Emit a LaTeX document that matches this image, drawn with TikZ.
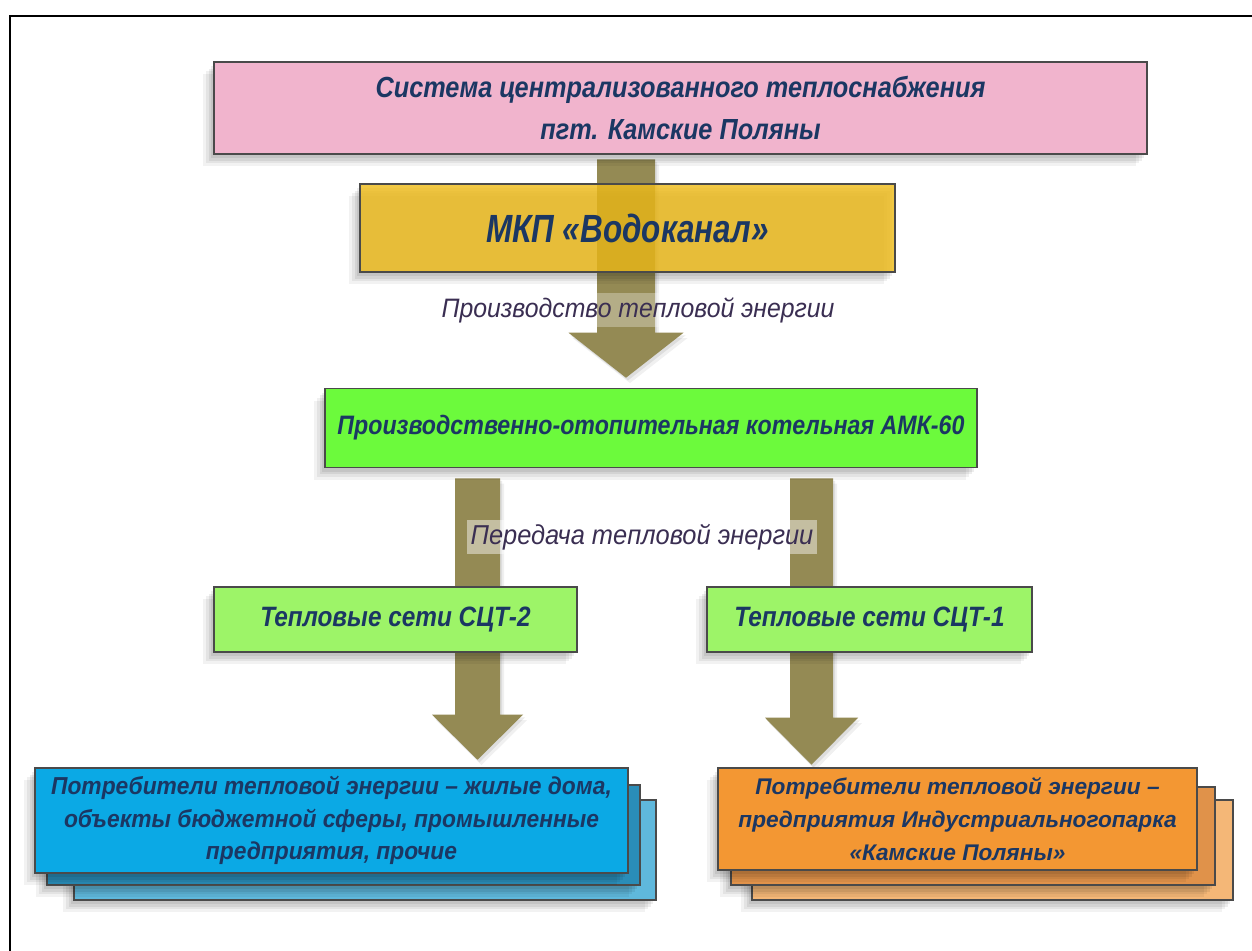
\documentclass[tikz,border=0pt]{standalone}
\usepackage{fontspec}
\setmainfont{Liberation Sans}
\newfontfamily\fsA[FakeStretch=0.80]{Liberation Sans}
\newfontfamily\fsB[FakeStretch=0.87]{Liberation Sans}
\newfontfamily\fsC[FakeStretch=0.93]{Liberation Sans}
\usetikzlibrary{calc}
\definecolor{navy}{HTML}{1B3763}
\definecolor{lblcol}{HTML}{3A2E52}
\definecolor{arrowcol}{HTML}{948A54}
\definecolor{pinkfill}{HTML}{F1B4CD}
\definecolor{yellowfill}{HTML}{EFBC1B}
\definecolor{greenfill}{HTML}{6CFA3C}
\definecolor{lgreenfill}{HTML}{9DF468}
\definecolor{bluefront}{HTML}{0BA9E5}
\definecolor{bluemid}{HTML}{2A8DB8}
\definecolor{blueback}{HTML}{5FB8DC}
\definecolor{orfront}{HTML}{F39733}
\definecolor{ormid}{HTML}{E0924A}
\definecolor{orback}{HTML}{F4B777}
\definecolor{boxline}{HTML}{4A4A4A}
\tikzset{
  shadowed/.style={
    preaction={fill=black, fill opacity=0.07, draw=none, transform canvas={xshift=-2pt, yshift=-3pt}},
    preaction={fill=black, fill opacity=0.07, draw=none, transform canvas={xshift=-4pt, yshift=-5pt}},
    preaction={fill=black, fill opacity=0.06, draw=none, transform canvas={xshift=-6pt, yshift=-7pt}},
    preaction={fill=black, fill opacity=0.05, draw=none, transform canvas={xshift=-8pt, yshift=-9pt}}},
  arrowshadow/.style={
    preaction={fill=black, fill opacity=0.08, draw=none, transform canvas={xshift=1.5pt, yshift=-2pt}},
    preaction={fill=black, fill opacity=0.06, draw=none, transform canvas={xshift=3pt, yshift=-4pt}}},
  boxstyle/.style={draw=boxline, line width=1pt, shadowed, inner sep=0pt, align=center, text=navy,
     font=\fsB\fontsize{20}{24}\selectfont\bfseries\itshape},
  lbl/.style={text=lblcol, font=\fsC\fontsize{20}{24}\selectfont\itshape, inner sep=3pt},
}
\newcommand\blockarrow[5]{%
  \fill[arrowcol, arrowshadow]
    ($(#1)+(-#3,0)$) -- ($(#1)+(#3,0)$) -- ($(#2)+(#3,-#5)$) -- ($(#2)+(#4,-#5)$) -- (#2)
    -- ($(#2)+(-#4,-#5)$) -- ($(#2)+(-#3,-#5)$) -- cycle;}
\begin{document}
\begin{tikzpicture}[x=0.75pt,y=-0.75pt]
\useasboundingbox (0,0) rectangle (1252,950);
\fill[white] (0,0) rectangle (1252,950);
\draw[line width=1.5pt, line cap=rect] (10,950) -- (10,16) -- (1252,16);

% reference nodes for geometry
\path (680.5,109) node[minimum width=699.75pt, minimum height=69pt, inner sep=0pt] (pinkref) {};
\path (651,429.5) node[minimum width=489pt, minimum height=59.25pt, inner sep=0pt] (greenref) {};
\path (331.5,820.5) node[minimum width=444.75pt, minimum height=78.75pt, inner sep=0pt] (blueref) {};
\path (957.5,819) node[minimum width=359.25pt, minimum height=76.5pt, inner sep=0pt] (orref) {};

\coordinate (ax0) at (626,0);
\coordinate (ax1) at (477.5,0);
\coordinate (ax2) at (811.5,0);

\coordinate (a0s) at ($(pinkref.south -| ax0)+(0,4)$);
\coordinate (a0e) at ($(greenref.north -| ax0)+(0,-12)$);
\coordinate (a1s) at ($(greenref.south -| ax1)+(0,9)$);
\coordinate (a1e) at ($(blueref.north -| ax1)+(0,-8)$);
\coordinate (a2s) at ($(greenref.south -| ax2)+(0,9)$);
\coordinate (a2e) at ($(orref.north -| ax2)+(0,-3)$);

\blockarrow{a0s}{a0e}{29}{57.5}{45}
\blockarrow{a1s}{a1e}{22.5}{45.5}{45}
\blockarrow{a2s}{a2e}{21.5}{46.5}{47}

% top box
\node[boxstyle, fill=pinkfill, minimum width=699.75pt, minimum height=69pt,
      font=\fsB\fontsize{21.8}{31}\selectfont\bfseries\itshape] (pink) at (680.5,108)
  {Система централизованного теплоснабжения\\ пгт. Камские Поляны};

% yellow box
\node[boxstyle, fill=yellowfill, fill opacity=0.82, text opacity=1, minimum width=401.25pt, minimum height=66pt,
      font=\fsA\fontsize{29.5}{32}\selectfont\bfseries\itshape] (yellow) at (627.5,228)
  {МКП «Водоканал»};

\node[lbl, fill=white, fill opacity=0.3, text opacity=1] (lbl1) at (638,310) {Производство тепловой энергии};

% green box
\node[boxstyle, fill=greenfill, minimum width=489pt, minimum height=59.25pt] (green) at (651,428)
  {Производственно-отопительная котельная АМК-60};

\node[lbl, fill=white, fill opacity=0.45, text opacity=1, font=\fsC\fontsize{20.5}{24}\selectfont\itshape] (lbl2) at (642,537) {Передача тепловой энергии};

\node[boxstyle, fill=lgreenfill, minimum width=272.25pt, minimum height=48.75pt,
      font=\fsB\fontsize{21}{24}\selectfont\bfseries\itshape] (sct2) at (395.5,619.5)
  {Тепловые сети СЦТ-2};
\node[boxstyle, fill=lgreenfill, minimum width=243.75pt, minimum height=48.75pt,
      font=\fsB\fontsize{21}{24}\selectfont\bfseries\itshape] (sct1) at (869.5,619.5)
  {Тепловые сети СЦТ-1};

% blue stack
\node[boxstyle, fill=blueback, minimum width=436.5pt, minimum height=75pt] (blue3) at (365,850) {};
\node[boxstyle, fill=bluemid, minimum width=444.75pt, minimum height=75pt] (blue2) at (343.5,835) {};
\node[boxstyle, fill=bluefront, minimum width=444.75pt, minimum height=78.75pt,
      font=\fsC\fontsize{18.4}{24.5}\selectfont\bfseries\itshape] (blue1) at (331.5,820.5)
  {Потребители тепловой энергии – жилые дома,\\ объекты бюджетной сферы, промышленные\\ предприятия, прочие};

% orange stack
\node[boxstyle, fill=orback, minimum width=360.75pt, minimum height=75pt] (or3) at (992.5,850) {};
\node[boxstyle, fill=ormid, minimum width=363pt, minimum height=73.5pt] (or2) at (973,836) {};
\node[boxstyle, fill=orfront, minimum width=359.25pt, minimum height=76.5pt,
      font=\fontsize{17}{24.5}\selectfont\bfseries\itshape] (or1) at (957.5,819)
  {Потребители тепловой энергии –\\ предприятия Индустриальногопарка\\ «Камские Поляны»};
\end{tikzpicture}
\end{document}
